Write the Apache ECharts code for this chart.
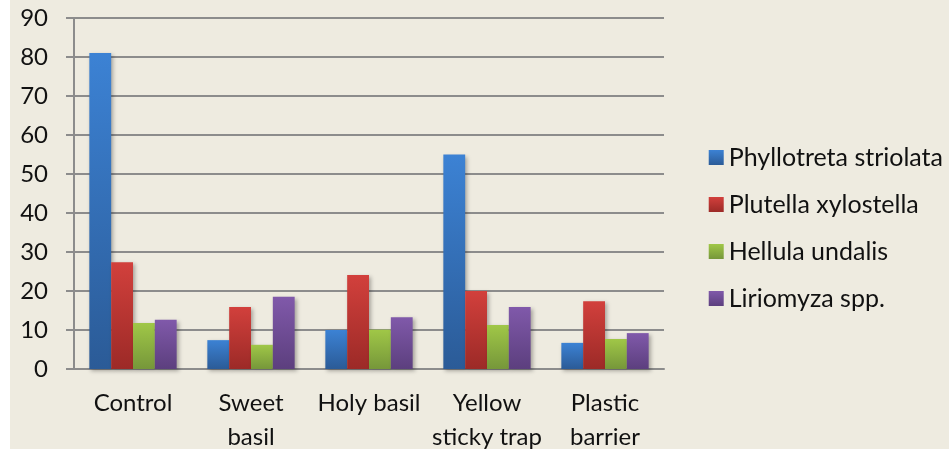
<!DOCTYPE html>
<html>
<head>
<meta charset="utf-8">
<script src="https://cdn.jsdelivr.net/npm/echarts@6/dist/echarts.min.js"></script>
<style>
  html, body { margin: 0; padding: 0; background: #fff; }
  #chart { position: absolute; left: 10px; top: 0; width: 939px; height: 449px; background: #EEEBE0; }
</style>
</head>
<body>
<div id="chart"></div>
<script>
var categories = ["Control", "Sweet\nbasil", "Holy basil", "Yellow\nsticky trap", "Plastic\nbarrier"];
var seriesNames = ["Phyllotreta striolata", "Plutella xylostella", "Hellula undalis", "Liriomyza spp."];
var phyllotreta = [81, 7.4, 10, 55, 6.7];
var plutella = [27.4, 15.9, 24.1, 20, 17.4];
var hellula = [11.8, 6.2, 10.1, 11.3, 7.7];
var liriomyza = [12.6, 18.5, 13.3, 15.9, 9.2];
var yTicks = [0, 10, 20, 30, 40, 50, 60, 70, 80, 90];

(function() {
  var myChart = echarts.init(document.getElementById("chart"));
  var font = "Lato, 'Open Sans', sans-serif";
  var colors = [
    ["#3C82D4", "#2B5B97"],
    ["#D2403C", "#9C2A27"],
    ["#A0C747", "#76973A"],
    ["#8059AA", "#5C3F7E"]
  ];
  var values = [phyllotreta, plutella, hellula, liriomyza];

  function grad(c) {
    return new echarts.graphic.LinearGradient(0, 0, 0, 1, [
      { offset: 0, color: c[0] },
      { offset: 1, color: c[1] }
    ]);
  }

  var series = seriesNames.map(function(name, i) {
    return {
      name: name,
      type: "bar",
      data: values[i],
      barGap: "0%",
      barCategoryGap: "26%",
      itemStyle: {
        color: grad(colors[i]),
        shadowColor: "rgba(0,0,0,0.3)",
        shadowBlur: 4,
        shadowOffsetX: 2,
        shadowOffsetY: 2
      }
    };
  });

  var option = {
    animation: false,
    grid: { left: 64, right: 285, top: 18, bottom: 80, outerBoundsMode: "none", containLabel: false },
    legend: {
      orient: "vertical",
      right: 1,
      top: 140,
      itemWidth: 15,
      itemHeight: 15,
      itemGap: 22,
      icon: "rect",
      textStyle: { fontFamily: font, fontSize: 25, color: "#111" },
      data: seriesNames.map(function(n, i) {
        return { name: n, itemStyle: { color: grad(colors[i]) } };
      })
    },
    xAxis: {
      type: "category",
      data: categories,
      axisLine: { lineStyle: { color: "#8c8c8c", width: 2 } },
      axisTick: { length: 8, lineStyle: { color: "#8c8c8c", width: 2 } },
      axisLabel: {
        fontFamily: font,
        fontSize: 24,
        color: "#111",
        lineHeight: 34,
        margin: 17,
        interval: 0
      }
    },
    yAxis: {
      type: "value",
      min: yTicks[0],
      max: yTicks[yTicks.length - 1],
      interval: 10,
      axisLine: { show: true, lineStyle: { color: "#8c8c8c", width: 2 } },
      axisTick: { show: true, length: 8, lineStyle: { color: "#8c8c8c", width: 2 } },
      axisLabel: { fontFamily: font, fontSize: 24, color: "#111", margin: 26 },
      splitLine: { lineStyle: { color: "#8c8c8c", width: 2 } }
    },
    series: series
  };

  myChart.setOption(option);
  window.addEventListener("resize", function() {
    myChart.resize();
  });
})();
</script>
</body>
</html>
